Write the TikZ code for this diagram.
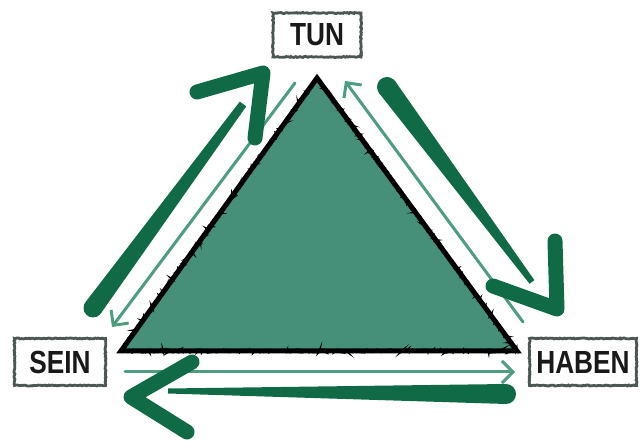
\documentclass[tikz,border=0pt]{standalone}
\usepackage{fontspec}
\setmainfont{Liberation Sans}
\newfontfamily\lblfont[FakeStretch=0.82]{Liberation Sans}
\usetikzlibrary{calc,arrows.meta,decorations.pathmorphing}
\definecolor{trifill}{HTML}{46907A}
\definecolor{brushgreen}{HTML}{106A45}
\definecolor{thingreen}{HTML}{4E9D80}
\definecolor{boxgray}{HTML}{4C5654}
\tikzset{
  lbl/.style={draw=boxgray, line width=2.8pt, fill=white, inner sep=0pt,
    font=\lblfont\bfseries\fontsize{32}{33}\selectfont, text=black!90,
    decorate, decoration={random steps, segment length=1.5pt, amplitude=0.5pt}},
  brush/.style={draw=brushgreen, line width=15pt, line cap=round, line join=round},
  shaftfill/.style={fill=brushgreen},
  thin/.style={draw=thingreen, line width=3pt, line cap=round,
    -{Straight Barb[length=11pt,width=22pt,line width=3pt]}},
  triedge/.style={draw=black, line width=5pt, line join=miter},
  triragged/.style={draw=black, line width=2pt,
    decorate, decoration={random steps, segment length=1.2pt, amplitude=1.6pt}}
}
\begin{document}
\begin{tikzpicture}[x=1pt,y=-1pt]
\useasboundingbox (0,0) rectangle (643,443);
\fill[white] (0,0) rectangle (643,443);

% triangle
\coordinate (top) at (317,78);
\coordinate (bl) at (121,351);
\coordinate (br) at (517,351);
\fill[trifill] (top) -- (bl) -- (br) -- cycle;
\draw[triragged] (top) -- (bl) -- (br) -- cycle;
\draw[triedge] (top) -- (bl) -- (br) -- cycle;

% labels
\node[lbl, minimum width=88pt, minimum height=44pt] (tun) at (317,35) {TUN};
\node[lbl, minimum width=91pt, minimum height=47pt] (sein) at (60,362) {SEIN};
\node[lbl, minimum width=107pt, minimum height=47pt] (haben) at (583,362) {HABEN};

% thin arrows
\coordinate (l1) at (295,83);
\coordinate (l2) at (112,327);
\coordinate (r1) at (523,322);
\coordinate (r2) at (345,81);
\coordinate (b1) at (125,372);
\coordinate (b2) at (515,372);
\draw[thin] (l1) -- (l2);
\draw[thin] (r1) -- (r2);
\draw[thin] (b1) -- (b2);

% big brush arrow left (up)
\coordinate (LA) at (93,308);
\coordinate (LB) at (243,104);
\fill[shaftfill] ($(LA)!9.5pt!90:(LB)$) -- ($(LB)!4pt!-90:(LA)$) -- ($(LB)!4pt!90:(LA)$) -- ($(LA)!9.5pt!-90:(LB)$) -- cycle;
\fill[shaftfill] (LA) circle (9.5pt);
\coordinate (Lc1) at (197,92);
\coordinate (Ltip) at (263,73);
\coordinate (Lc2) at (255,138);
\draw[brush] (Lc1) -- (Ltip) -- (Lc2);

% big brush arrow right (down)
\coordinate (RA) at (387,87);
\coordinate (RB) at (532,282);
\fill[shaftfill] ($(RA)!10pt!90:(RB)$) -- ($(RB)!3pt!-90:(RA)$) -- ($(RB)!3pt!90:(RA)$) -- ($(RA)!10pt!-90:(RB)$) -- cycle;
\fill[shaftfill] (RA) circle (10pt);
\coordinate (Rc1) at (493,286);
\coordinate (Rtip) at (557,309);
\coordinate (Rc2) at (555,241);
\draw[brush] (Rc1) -- (Rtip) -- (Rc2);

% big brush arrow bottom (left)
\coordinate (BA) at (506,394);
\coordinate (BB) at (168,391);
\fill[shaftfill] ($(BA)!10pt!90:(BB)$) -- ($(BB)!2.5pt!-90:(BA)$) -- ($(BB)!2.5pt!90:(BA)$) -- ($(BA)!10pt!-90:(BB)$) -- cycle;
\fill[shaftfill] (BA) circle (10pt);
\coordinate (Bc1) at (192,362);
\coordinate (Btip) at (131,397);
\coordinate (Bc2) at (187,432);
\draw[brush] (Bc1) -- (Btip) -- (Bc2);
\end{tikzpicture}
\end{document}
